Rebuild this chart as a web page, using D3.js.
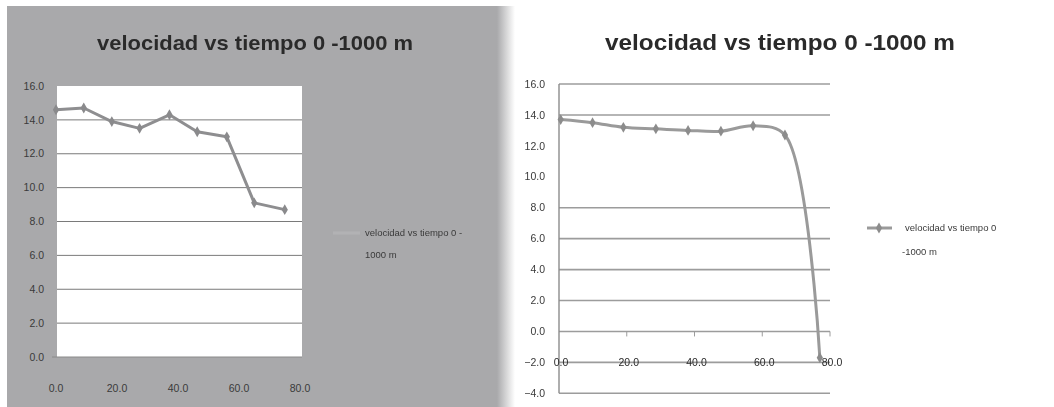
<!DOCTYPE html>
<html>
<head>
<meta charset="utf-8">
<script src="https://cdn.jsdelivr.net/npm/d3@7"></script>
<style>
  html, body { margin: 0; padding: 0; background: #fff; }
  svg { display: block; filter: blur(0.55px); }
</style>
</head>
<body>
<div id="chart"></div>
<script>
// left chart: velocidad vs tiempo (first run)
const tiempoA = [0, 9.1, 18.3, 27.4, 37.2, 46.3, 56.0, 65.0, 75.0];
const velocidadA = [14.6, 14.7, 13.9, 13.5, 14.3, 13.3, 13.0, 9.1, 8.7];

// right chart: velocidad vs tiempo (second run)
const tiempoB = [0.5, 9.9, 19.0, 28.6, 38.1, 47.8, 57.3, 66.7, 77.0];
const velocidadB = [13.7, 13.5, 13.2, 13.1, 13.0, 12.95, 13.3, 12.7, -1.7];

const xTicks = [0, 20, 40, 60, 80];
const yTicksA = [0, 2, 4, 6, 8, 10, 12, 14, 16];
const yTicksB = [-4, -2, 0, 2, 4, 6, 8, 10, 12, 14, 16];
const titleText = 'velocidad vs tiempo 0 -1000 m';
const legendLinesA = ['velocidad vs tiempo 0 -', '1000 m'];
const legendLinesB = ['velocidad vs tiempo 0', '-1000 m'];

const width = 1054;
const height = 407;
const fmt = d3.format('.1f');
const font = 'Liberation Sans, Arial, sans-serif';

const svg = d3.select('#chart')
  .append('svg')
  .attr('width', width)
  .attr('height', height)
  .attr('viewBox', `0 0 ${width} ${height}`);

const diamond = d3.symbol().type(d3.symbolDiamond).size(34);

// ---------- left chart ----------
const defs = svg.append('defs');
const fade = defs.append('linearGradient').attr('id', 'fade');
fade.append('stop').attr('offset', '0%').attr('stop-color', '#a9a9ab');
fade.append('stop').attr('offset', '100%').attr('stop-color', '#ffffff');

svg.append('rect')
  .attr('x', 7).attr('y', 6).attr('width', 491).attr('height', 401)
  .attr('fill', '#a9a9ab');
svg.append('rect')
  .attr('x', 497).attr('y', 6).attr('width', 18).attr('height', 401)
  .attr('fill', 'url(#fade)');

const left = svg.append('g');
const xA = d3.scaleLinear().domain([0, 80]).range([56, 300]);
const yA = d3.scaleLinear().domain([0, 16]).range([357, 86]);

left.append('rect')
  .attr('x', 57).attr('y', yA(16))
  .attr('width', 245).attr('height', yA(0) - yA(16))
  .attr('fill', '#ffffff');

left.append('g')
  .selectAll('line')
  .data(yTicksA.filter(d => d > 0 && d < 16))
  .join('line')
  .attr('x1', 57).attr('x2', 302)
  .attr('y1', d => yA(d)).attr('y2', d => yA(d))
  .attr('stroke', '#7a7a7a').attr('stroke-width', 1);

left.append('line')
  .attr('x1', 52).attr('x2', 302)
  .attr('y1', yA(0)).attr('y2', yA(0))
  .attr('stroke', '#8a8a8a').attr('stroke-width', 1);

left.append('g')
  .selectAll('text')
  .data(yTicksA)
  .join('text')
  .attr('x', 44).attr('y', d => yA(d))
  .attr('dy', '0.35em')
  .attr('text-anchor', 'end')
  .attr('font-family', font).attr('font-size', 10.5)
  .attr('fill', '#3a3a3a')
  .text(d => fmt(d));

left.append('g')
  .selectAll('text')
  .data(xTicks)
  .join('text')
  .attr('x', d => xA(d)).attr('y', 388)
  .attr('dy', '0.35em')
  .attr('text-anchor', 'middle')
  .attr('font-family', font).attr('font-size', 10.5)
  .attr('fill', '#3a3a3a')
  .text(d => fmt(d));

const ptsA = tiempoA.map((t, i) => [t, velocidadA[i]]);
const lineA = d3.line().x(d => xA(d[0])).y(d => yA(d[1]));

left.append('path')
  .datum(ptsA)
  .attr('d', lineA)
  .attr('fill', 'none')
  .attr('stroke', '#8e8e90').attr('stroke-width', 3)
  .attr('stroke-linejoin', 'round');

left.append('g')
  .selectAll('path')
  .data(ptsA)
  .join('path')
  .attr('transform', d => `translate(${xA(d[0])},${yA(d[1])})`)
  .attr('d', diamond)
  .attr('fill', '#8a8a8c');

left.append('text')
  .attr('x', 255).attr('y', 50)
  .attr('text-anchor', 'middle')
  .attr('font-family', font).attr('font-size', 21).attr('font-weight', 'bold')
  .attr('textLength', 316).attr('lengthAdjust', 'spacingAndGlyphs')
  .attr('fill', '#2a2a2a')
  .text(titleText);

left.append('line')
  .attr('x1', 333).attr('x2', 360).attr('y1', 233).attr('y2', 233)
  .attr('stroke', '#b2b2b4').attr('stroke-width', 3);

left.append('g')
  .selectAll('text')
  .data(legendLinesA)
  .join('text')
  .attr('x', 365).attr('y', (d, i) => 233 + i * 22)
  .attr('dy', '0.35em')
  .attr('font-family', font).attr('font-size', 9.5)
  .attr('fill', '#3a3a3a')
  .text(d => d);

// ---------- right chart ----------
const right = svg.append('g');
const xB = d3.scaleLinear().domain([0, 80]).range([559, 830]);
const yB = d3.scaleLinear().domain([-4, 16]).range([393.3, 84]);

// the 10.0 and 12.0 gridlines are not visible in the original
right.append('g')
  .selectAll('line')
  .data(yTicksB.filter(d => d !== 10 && d !== 12))
  .join('line')
  .attr('x1', 559).attr('x2', 830)
  .attr('y1', d => yB(d)).attr('y2', d => yB(d))
  .attr('stroke', '#9c9c9c').attr('stroke-width', 1.6);

right.append('line')
  .attr('x1', 559).attr('x2', 559)
  .attr('y1', yB(16)).attr('y2', yB(-4))
  .attr('stroke', '#8c8c8c').attr('stroke-width', 1.4);

right.append('g')
  .selectAll('line')
  .data(xTicks.filter(d => d > 0))
  .join('line')
  .attr('x1', d => xB(d)).attr('x2', d => xB(d))
  .attr('y1', yB(0)).attr('y2', yB(0) + 5)
  .attr('stroke', '#9c9c9c').attr('stroke-width', 1);

right.append('g')
  .selectAll('text')
  .data(yTicksB)
  .join('text')
  .attr('x', 545).attr('y', d => yB(d))
  .attr('dy', '0.35em')
  .attr('text-anchor', 'end')
  .attr('font-family', font).attr('font-size', 10.5)
  .attr('fill', '#3a3a3a')
  .text(d => fmt(d));

right.append('g')
  .selectAll('text')
  .data(xTicks)
  .join('text')
  .attr('x', d => xB(d) + 2).attr('y', yB(-2))
  .attr('dy', '0.35em')
  .attr('text-anchor', 'middle')
  .attr('font-family', font).attr('font-size', 10.5)
  .attr('fill', '#2a2a2a')
  .text(d => fmt(d));

const ptsB = tiempoB.map((t, i) => [t, velocidadB[i]]);
const lineB = d3.line().x(d => xB(d[0])).y(d => yB(d[1])).curve(d3.curveCatmullRom.alpha(0.5));

right.append('path')
  .datum(ptsB)
  .attr('d', lineB)
  .attr('fill', 'none')
  .attr('stroke', '#9a9a9a').attr('stroke-width', 3)
  .attr('stroke-linejoin', 'round');

right.append('g')
  .selectAll('path')
  .data(ptsB)
  .join('path')
  .attr('transform', d => `translate(${xB(d[0])},${yB(d[1])})`)
  .attr('d', diamond)
  .attr('fill', '#8c8c8c');

right.append('text')
  .attr('x', 780).attr('y', 50)
  .attr('text-anchor', 'middle')
  .attr('font-family', font).attr('font-size', 22).attr('font-weight', 'bold')
  .attr('textLength', 350).attr('lengthAdjust', 'spacingAndGlyphs')
  .attr('fill', '#2a2a2a')
  .text(titleText);

right.append('line')
  .attr('x1', 867).attr('x2', 892).attr('y1', 228).attr('y2', 228)
  .attr('stroke', '#9a9a9a').attr('stroke-width', 3);
right.append('path')
  .attr('transform', 'translate(879,228)')
  .attr('d', diamond)
  .attr('fill', '#8c8c8c');

right.append('g')
  .selectAll('text')
  .data(legendLinesB)
  .join('text')
  .attr('x', (d, i) => i === 0 ? 905 : 902).attr('y', (d, i) => 228 + i * 24)
  .attr('dy', '0.35em')
  .attr('font-family', font).attr('font-size', 9.5)
  .attr('fill', '#3a3a3a')
  .text(d => d);
</script>
</body>
</html>
